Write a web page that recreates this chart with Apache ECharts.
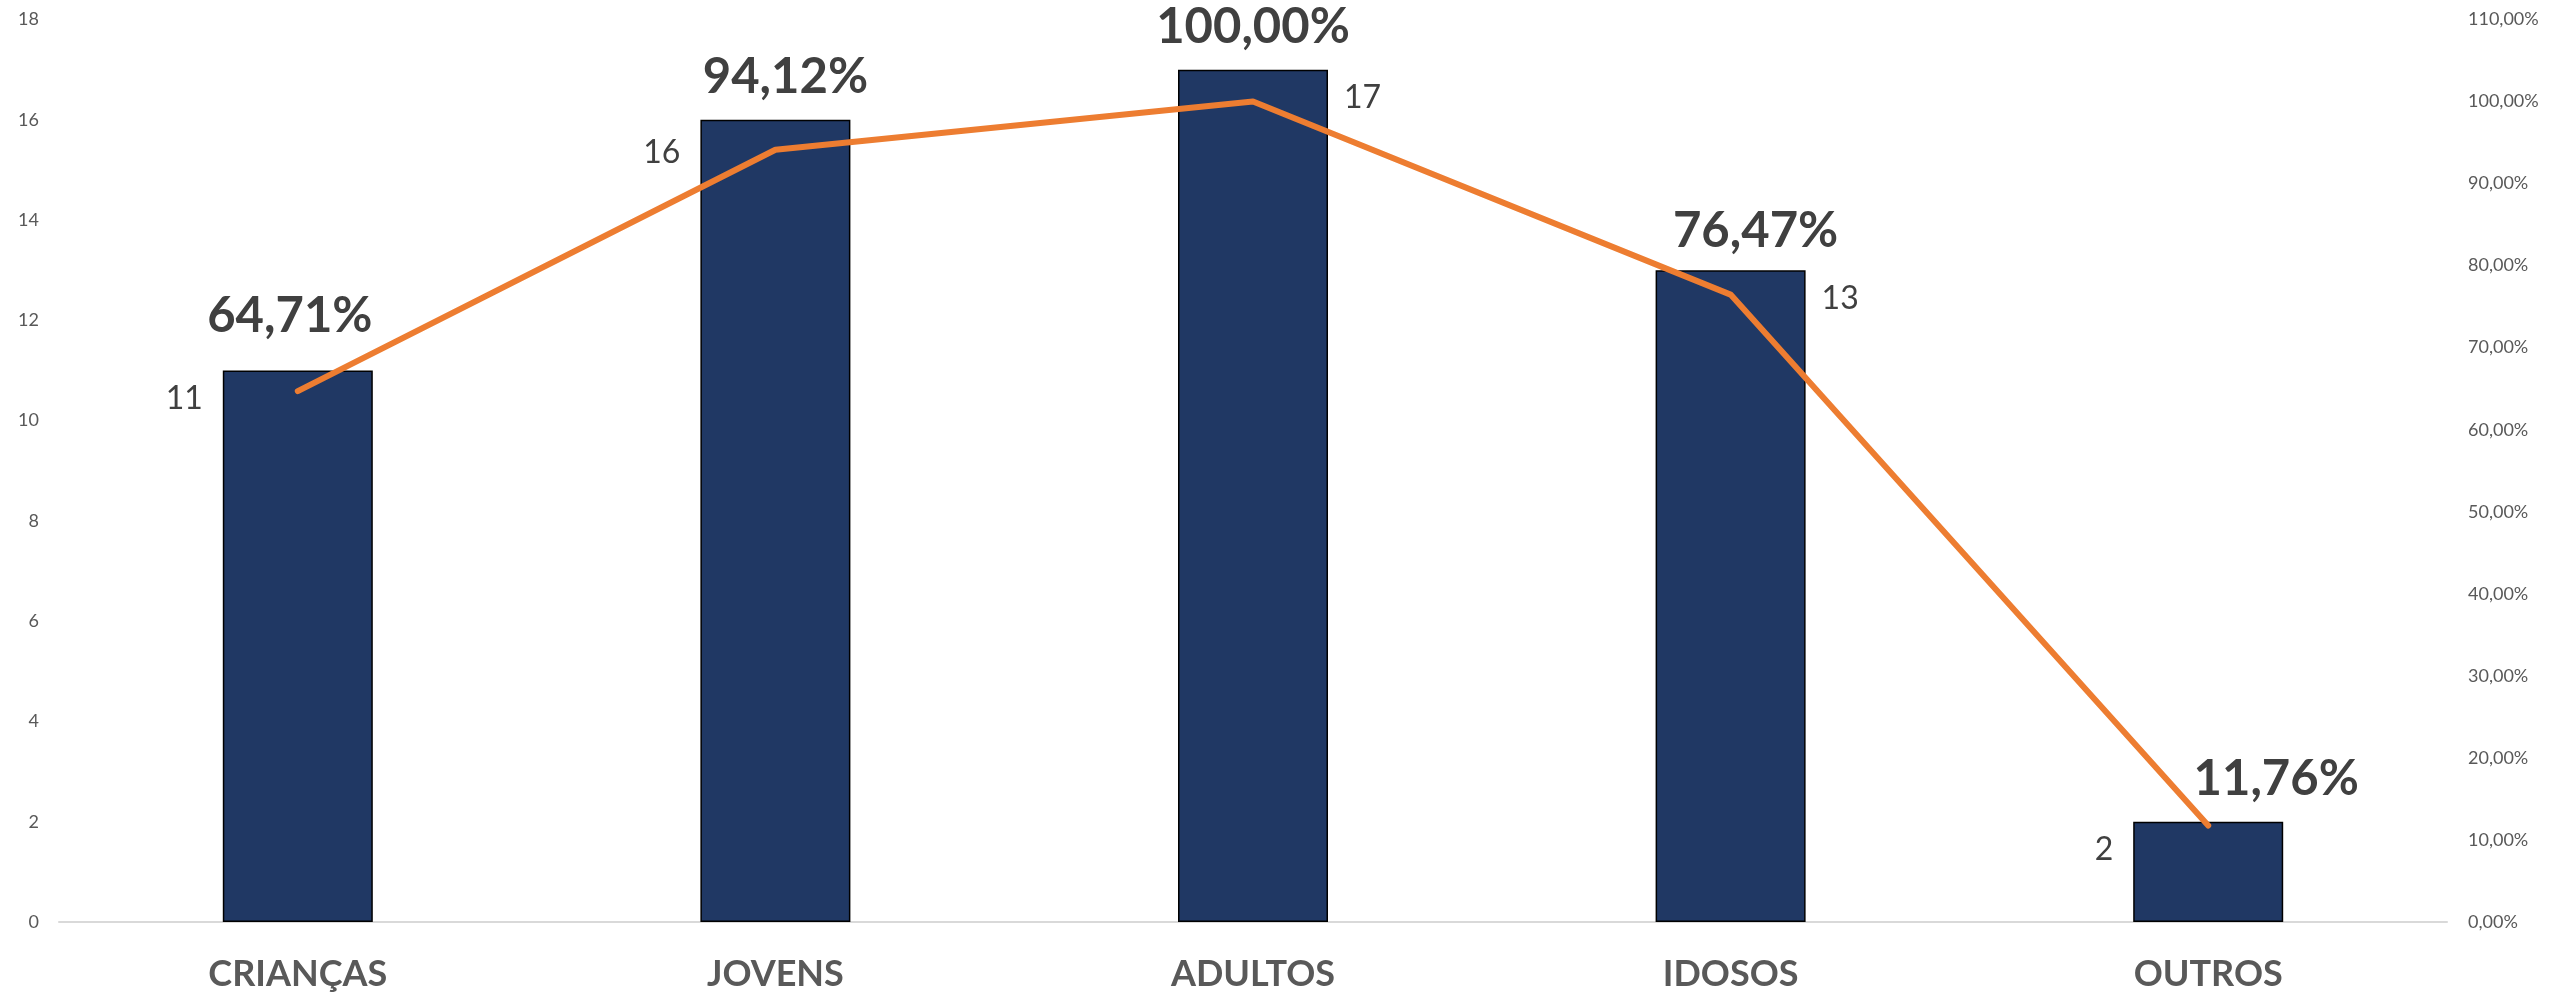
<!DOCTYPE html>
<html>
<head>
<meta charset="utf-8">
<script src="https://cdn.jsdelivr.net/npm/echarts@6/dist/echarts.min.js"></script>
<style>
  html, body { margin: 0; padding: 0; background: #ffffff; }
  #chart { width: 2549px; height: 996px; }
</style>
</head>
<body>
<div id="chart"></div>
<script>
const categories = ['CRIANÇAS', 'JOVENS', 'ADULTOS', 'IDOSOS', 'OUTROS'];
const counts = [11, 16, 17, 13, 2];
const percents = [64.71, 94.12, 100.00, 76.47, 11.76];
const leftTicks = { min: 0, max: 18, interval: 2 };
const rightTicks = { min: 0, max: 110, interval: 10 };

// label placement (styling only)
const countSide = ['left', 'left', 'right', 'right', 'left'];
const countDy = [28, 33, 28, 28, 28];
const pctOffsets = [[-8, -54], [10, -43], [0, -42], [25, -39], [68, -43]];

const fmtPct = v => v.toFixed(2).replace('.', ',') + '%';
const FONT = 'Lato, "Open Sans", "DejaVu Sans", sans-serif';

const countData = counts.map((v, i) => ({
  value: v,
  label: countSide[i] === 'left'
    ? { position: [-20, countDy[i]], align: 'right', verticalAlign: 'middle' }
    : { position: ['100%', countDy[i]], offset: [16, 0], align: 'left', verticalAlign: 'middle' }
}));

const pctData = counts.map((v, i) => ({
  value: v,
  label: { offset: pctOffsets[i] }
}));

const chart = echarts.init(document.getElementById('chart'), null, { renderer: 'canvas' });
chart.setOption({
  animation: false,
  backgroundColor: '#ffffff',
  textStyle: { fontFamily: FONT },
  grid: { left: 59, right: 102, top: 19.5, bottom: 74, containLabel: false },
  xAxis: {
    type: 'category',
    data: categories,
    axisLine: { show: true, lineStyle: { color: '#d9d9d9', width: 2 } },
    axisTick: { show: false },
    axisLabel: { color: '#595959', fontSize: 36, fontWeight: 'bold', margin: 34, fontFamily: FONT }
  },
  yAxis: [
    {
      type: 'value',
      min: leftTicks.min, max: leftTicks.max, interval: leftTicks.interval,
      splitLine: { show: false },
      axisLine: { show: false },
      axisTick: { show: false },
      axisLabel: { color: '#595959', fontSize: 18, margin: 20, fontFamily: FONT }
    },
    {
      type: 'value',
      min: rightTicks.min, max: rightTicks.max, interval: rightTicks.interval,
      splitLine: { show: false },
      axisLine: { show: false },
      axisTick: { show: false },
      axisLabel: { color: '#595959', fontSize: 18, margin: 21, fontFamily: FONT, formatter: v => fmtPct(v) }
    }
  ],
  series: [
    {
      name: 'Quantidade',
      type: 'bar',
      yAxisIndex: 0,
      data: countData,
      barWidth: 150,
      itemStyle: { color: '#203864', borderColor: '#000000', borderWidth: 1.5 },
      label: { show: true, color: '#404040', fontSize: 32, fontFamily: FONT }
    },
    {
      name: 'Percentual',
      type: 'bar',
      yAxisIndex: 0,
      data: pctData,
      barWidth: 150,
      barGap: '-100%',
      itemStyle: { color: 'rgba(0,0,0,0)' },
      silent: true,
      label: {
        show: true,
        position: ['50%', 0],
        align: 'center',
        verticalAlign: 'middle',
        color: '#404040',
        fontSize: 49,
        fontWeight: 'bold',
        fontFamily: FONT,
        formatter: p => fmtPct(percents[p.dataIndex])
      }
    },
    {
      name: 'Percentual linha',
      type: 'line',
      yAxisIndex: 1,
      data: percents,
      symbol: 'none',
      lineStyle: { color: '#ED7D31', width: 6, cap: 'round', join: 'round' },
      z: 5
    }
  ]
});
</script>
</body>
</html>
